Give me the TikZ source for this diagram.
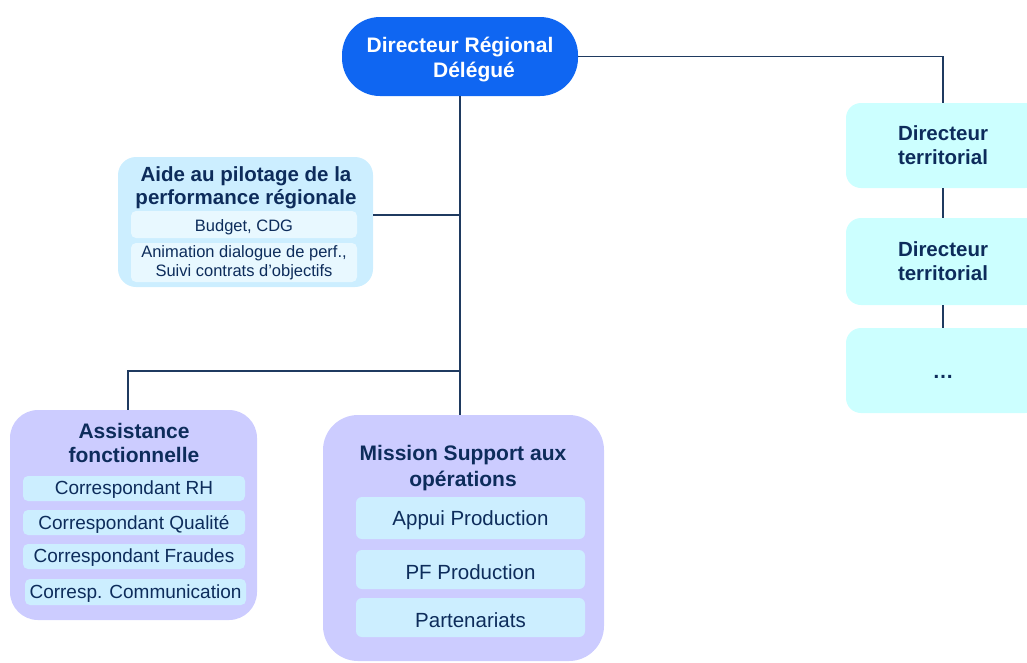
\documentclass[tikz,border=0pt]{standalone}
\usepackage{fontspec}
\setmainfont{Liberation Sans}
\definecolor{navy}{HTML}{0D2C5B}
\definecolor{linec}{HTML}{1F3A60}
\definecolor{topblue}{HTML}{0F66F2}
\definecolor{aidefill}{HTML}{CCEEFF}
\definecolor{aideinner}{HTML}{E8F8FF}
\definecolor{dtfill}{HTML}{CCFFFF}
\definecolor{lav}{HTML}{CCCCFF}
\definecolor{lavinner}{HTML}{CCEEFF}
\newcommand{\dn}[2][2.5pt]{\raisebox{-#1}[\height][\depth]{#2}}
\newcommand{\dnlines}[2][2.5pt]{\raisebox{-#1}[\height][\depth]{\begin{tabular}{@{}c@{}}#2\end{tabular}}}
\begin{document}
\begin{tikzpicture}[x=1pt,y=-1pt,
  box/.style={inner sep=0pt, align=center, text=navy},
  conn/.style={draw=linec, line width=1.3pt},
  ttl/.style={inner sep=0pt, align=center, text=navy, font=\bfseries\fontsize{21}{24}\selectfont},
  small/.style={box, rounded corners=5pt, font=\fontsize{16.5}{19}\selectfont},
  med/.style={box, rounded corners=5pt, font=\fontsize{19}{22}\selectfont},
  big/.style={box, rounded corners=6pt, font=\fontsize{20.5}{24}\selectfont}
]
\useasboundingbox (0,0) rectangle (1027,662);

% top node
\node[box, fill=topblue, rounded corners=38pt, minimum width=236pt, minimum height=79pt,
  text=white, font=\bfseries\fontsize{21}{25}\selectfont] (top) at (460,56.5)
  {\dnlines[3pt]{Directeur Régional\\\hspace*{28pt}Délégué}};

% Aide au pilotage
\node[box, fill=aidefill, rounded corners=18pt, minimum width=255pt, minimum height=130pt] (aide) at (245.5,222) {};
\node[ttl, font=\bfseries\fontsize{20.5}{23}\selectfont] (aidet) at (246,188) {Aide au pilotage de la\\performance régionale};
\node[small, fill=aideinner, minimum width=226pt, minimum height=27pt] (budget) at (244,224.5) {\dn{Budget, CDG}};
\node[small, fill=aideinner, minimum width=226pt, minimum height=39pt] (anim) at (244,262.5) {\dnlines[1pt]{Animation dialogue de perf.,\\Suivi contrats d’objectifs}};

% Directeurs territoriaux
\node[box, fill=dtfill, rounded corners=15pt, minimum width=194pt, minimum height=85pt,
  font=\bfseries\fontsize{20.5}{24}\selectfont] (dt1) at (943,145.5) {Directeur\\territorial};
\node[box, fill=dtfill, rounded corners=15pt, minimum width=194pt, minimum height=87pt,
  font=\bfseries\fontsize{20.5}{24}\selectfont] (dt2) at (943,261.5) {Directeur\\territorial};
\node[box, fill=dtfill, rounded corners=15pt, minimum width=194pt, minimum height=85pt,
  font=\bfseries\fontsize{21}{24}\selectfont] (dt3) at (943,370.5) {\dn[6pt]{…}};

% Assistance fonctionnelle
\node[box, fill=lav, rounded corners=28pt, minimum width=247pt, minimum height=210pt] (assist) at (133.5,515) {};
\node[ttl] (assistt) at (134,443) {Assistance\\fonctionnelle};
\node[med, fill=lavinner, minimum width=222pt, minimum height=25pt] (a1) at (134,488.5) {\dn[1.5pt]{Correspondant RH}};
\node[med, fill=lavinner, minimum width=222pt, minimum height=25pt] (a2) at (134,522.5) {\dn[1.5pt]{Correspondant Qualité}};
\node[med, fill=lavinner, minimum width=222pt, minimum height=25pt] (a3) at (134,556.5) {\dn[1.5pt]{Correspondant Fraudes}};
\node[med, fill=lavinner, minimum width=221pt, minimum height=26pt] (a4) at (135.5,592) {\dn[1.5pt]{Corresp. Communication}};

% Mission Support
\node[box, fill=lav, rounded corners=35pt, minimum width=281pt, minimum height=246pt] (mission) at (463.5,538) {};
\node[ttl, font=\bfseries\fontsize{21}{26}\selectfont] (missiont) at (463,468) {Mission Support aux\\opérations};
\node[big, fill=lavinner, minimum width=229pt, minimum height=42pt] (m1) at (470.5,518) {\dn{Appui Production}};
\node[big, fill=lavinner, minimum width=229pt, minimum height=39pt] (m2) at (470.5,569.5) {\dn{PF Production}};
\node[big, fill=lavinner, minimum width=229pt, minimum height=39pt] (m3) at (470.5,617.5) {\dn{Partenariats}};

% connectors
\coordinate (j) at (460,371);
\draw[conn] (top.south) -- (top.south |- mission.north);
\draw[conn] ([yshift=7pt]aide.east) -- ([yshift=7pt]aide.east -| top.south);
\draw[conn] ([xshift=-5.5pt]assist.north) |- (j);
\draw[conn] (top.east) -| (dt1.north);
\draw[conn] (dt1.south) -- (dt2.north);
\draw[conn] (dt2.south) -- (dt3.north);
\end{tikzpicture}
\end{document}
